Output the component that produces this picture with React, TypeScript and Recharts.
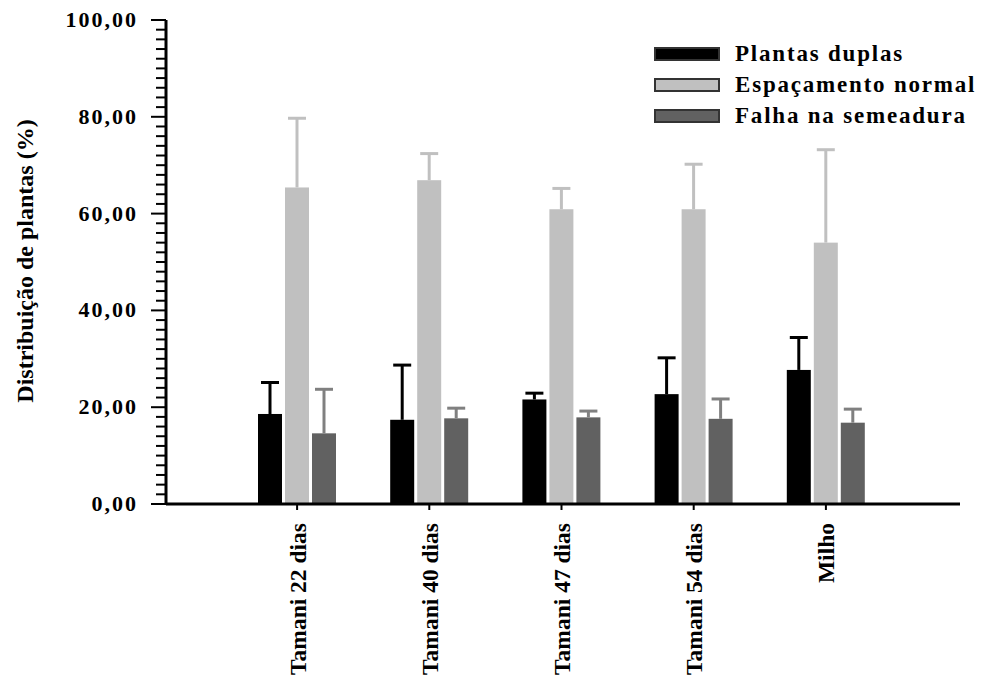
import React from 'react';
import { BarChart, Bar, XAxis, YAxis, Legend } from 'recharts';

const categories = ['Tamani 22 dias', 'Tamani 40 dias', 'Tamani 47 dias', 'Tamani 54 dias', 'Milho'];
const plantasDuplas = [18.6, 17.4, 21.6, 22.7, 27.7];
const plantasDuplasErr = [6.5, 11.3, 1.3, 7.5, 6.7];
const espacamentoNormal = [65.4, 66.9, 60.9, 60.9, 54.0];
const espacamentoNormalErr = [14.3, 5.5, 4.3, 9.3, 19.2];
const falhaSemeadura = [14.6, 17.7, 17.9, 17.6, 16.8];
const falhaSemeaduraErr = [9.1, 2.1, 1.3, 4.1, 2.8];

const seriesNames = ['Plantas duplas', 'Espaçamento normal', 'Falha na semeadura'];
const seriesColors = ['#000000', '#c0c0c0', '#616161'];
const errorColors = ['#000000', '#c0c0c0', '#808080'];

const majorTicks = [0, 20, 40, 60, 80, 100];
const minorStep = 2;

const FONT = '"Liberation Serif", "Times New Roman", serif';

const data = categories.map((name, i) => ({
  name,
  duplas: plantasDuplas[i],
  duplasErr: plantasDuplasErr[i],
  normal: espacamentoNormal[i],
  normalErr: espacamentoNormalErr[i],
  falha: falhaSemeadura[i],
  falhaErr: falhaSemeaduraErr[i],
}));

const yTicks: number[] = [];
for (let v = majorTicks[0]; v <= majorTicks[majorTicks.length - 1]; v += minorStep) yTicks.push(v);

const YTick = (props: any) => {
  const { x, y, payload } = props;
  const v = payload.value;
  const major = majorTicks.includes(v);
  return (
    <g>
      <line x1={x - (major ? 15 : 10)} x2={x} y1={y} y2={y} stroke="#000" strokeWidth={2} />
      {major && (
        <text
          x={x - 28}
          y={y}
          dy="0.32em"
          textAnchor="end"
          fontFamily={FONT}
          fontWeight="bold"
          fontSize={22}
          letterSpacing={2}
          fill="#000"
        >
          {v.toFixed(2).replace('.', ',')}
        </text>
      )}
    </g>
  );
};

const XTick = (props: any) => {
  const { x, y, payload } = props;
  return (
    <text
      x={x}
      y={y}
      transform={`rotate(-90 ${x} ${y})`}
      dy="0.36em"
      textAnchor="end"
      fontFamily={FONT}
      fontWeight="bold"
      fontSize={23.5}
      fill="#000"
    >
      {payload.value}
    </text>
  );
};

const YTitle = () => (
  <text
    x={25}
    y={261}
    transform="rotate(-90 25 261)"
    dy="0.35em"
    textAnchor="middle"
    fontFamily={FONT}
    fontWeight="bold"
    fontSize={24}
    fill="#000"
  >
    Distribuição de plantas (%)
  </text>
);

const makeBarWithError = (valueKey: string, errKey: string, errColor: string) => (props: any) => {
  const { x, y, width, height, fill, payload } = props;
  const v = payload[valueKey];
  const err = payload[errKey];
  const pxPerUnit = v ? height / v : 0;
  const top = y - err * pxPerUnit;
  const cx = x + width / 2;
  return (
    <g>
      <rect x={x} y={y} width={width} height={height} fill={fill} />
      <line x1={cx} x2={cx} y1={y} y2={top} stroke={errColor} strokeWidth={3} />
      <line x1={cx - 9} x2={cx + 9} y1={top} y2={top} stroke={errColor} strokeWidth={3} />
    </g>
  );
};

const LegendContent = () => (
  <div style={{ fontFamily: FONT }}>
    {seriesNames.map((name, i) => (
      <div key={name} style={{ display: 'flex', alignItems: 'center', height: 31 }}>
        <div
          style={{
            width: 66,
            height: 14,
            boxSizing: 'border-box',
            border: '2px solid #333',
            background: seriesColors[i],
          }}
        />
        <span
          style={{
            marginLeft: 15,
            fontWeight: 'bold',
            fontSize: 23,
            letterSpacing: 1.8,
            color: '#000',
            whiteSpace: 'nowrap',
          }}
        >
          {name}
        </span>
      </div>
    ))}
  </div>
);

export default function App() {
  return (
    <div style={{ position: 'absolute', left: 0, top: 0, width: 995, height: 680, background: '#fff' }}>
      <BarChart
        width={995}
        height={680}
        data={data}
        margin={{ top: 20, right: 35, bottom: 0, left: 0 }}
        barGap={3}
        barSize={24}
      >
        <XAxis
          dataKey="name"
          height={176}
          padding={{ left: 65, right: 68 }}
          axisLine={{ stroke: '#000', strokeWidth: 3 }}
          tickLine={{ stroke: '#000', strokeWidth: 2 }}
          tickSize={6}
          tickMargin={13}
          tick={<XTick />}
          interval={0}
        />
        <YAxis
          width={166}
          domain={[0, 100]}
          ticks={yTicks}
          interval={0}
          tickSize={0}
          tickMargin={0}
          tickLine={false}
          axisLine={{ stroke: '#000', strokeWidth: 3 }}
          tick={<YTick />}
          label={<YTitle />}
        />
        <Legend
          layout="vertical"
          align="center"
          verticalAlign="middle"
          content={<LegendContent />}
          wrapperStyle={{ top: 38, left: 654, width: 340, height: 95 }}
        />
        <Bar
          dataKey="duplas"
          name={seriesNames[0]}
          fill={seriesColors[0]}
          isAnimationActive={false}
          shape={makeBarWithError('duplas', 'duplasErr', errorColors[0])}
        />
        <Bar
          dataKey="normal"
          name={seriesNames[1]}
          fill={seriesColors[1]}
          isAnimationActive={false}
          shape={makeBarWithError('normal', 'normalErr', errorColors[1])}
        />
        <Bar
          dataKey="falha"
          name={seriesNames[2]}
          fill={seriesColors[2]}
          isAnimationActive={false}
          shape={makeBarWithError('falha', 'falhaErr', errorColors[2])}
        />
      </BarChart>
    </div>
  );
}
